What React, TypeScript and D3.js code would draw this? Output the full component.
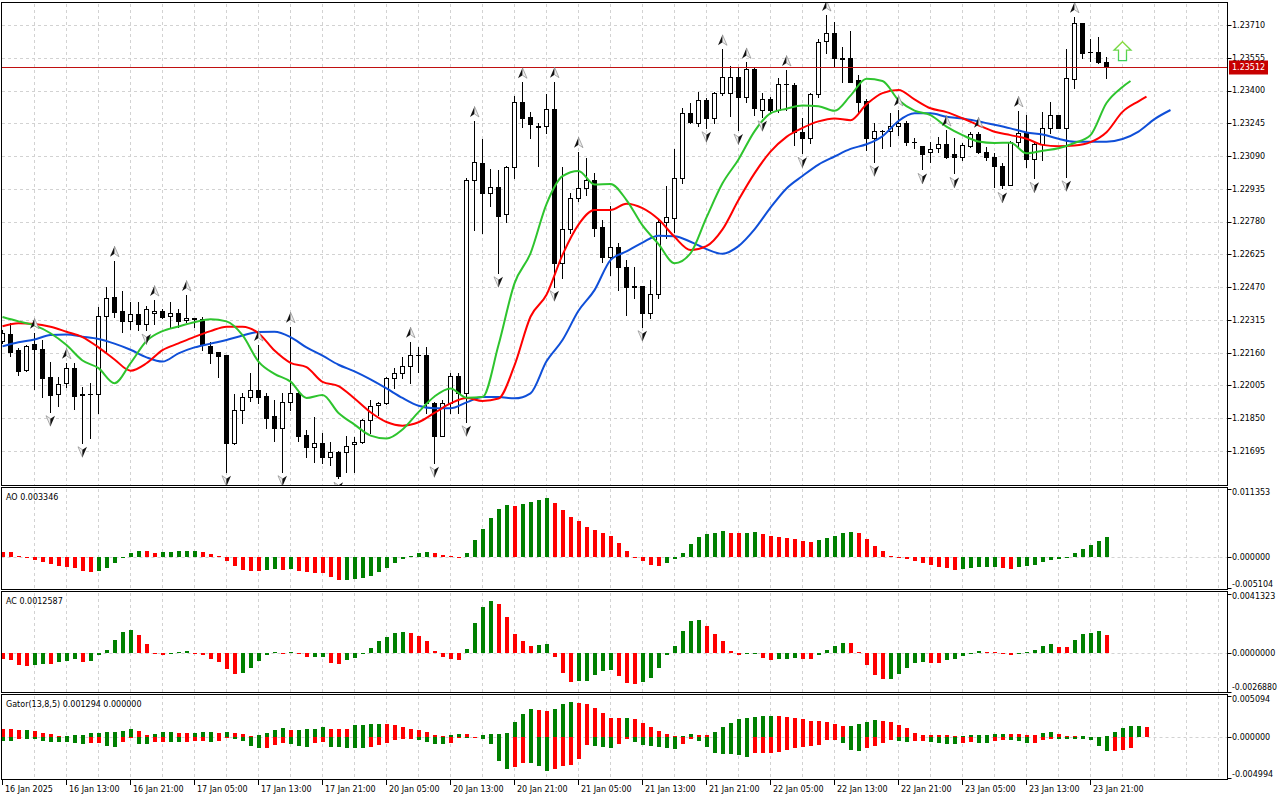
import * as d3 from 'd3';

// ---------- candles (H1) ----------
const opens = [
  1.22217, 1.22248, 1.22173, 1.22078, 1.22201, 1.22177, 1.22046, 1.21964, 1.22015, 1.22089,
  1.21962, 1.21963, 1.21963, 1.22333, 1.22425, 1.22357, 1.22311, 1.22343, 1.22294, 1.22348,
  1.22358, 1.22333, 1.22348, 1.22314, 1.22322, 1.22318, 1.22191, 1.22162, 1.22149, 1.21731,
  1.21887, 1.21949, 1.21982, 1.21956, 1.21860, 1.21805, 1.21925, 1.21971, 1.21770, 1.21715,
  1.21731, 1.21668, 1.21692, 1.21689, 1.21728, 1.21739, 1.21841, 1.21912, 1.21920, 1.22039,
  1.22062, 1.22097, 1.22149, 1.22150, 1.21923, 1.21767, 1.21920, 1.22050, 1.21971, 1.22977,
  1.23056, 1.22914, 1.22942, 1.22814, 1.23040, 1.23347, 1.23273, 1.23230, 1.23232, 1.23311,
  1.22583, 1.22743, 1.22890, 1.22940, 1.22977, 1.22753, 1.22614, 1.22661, 1.22563, 1.22475,
  1.22475, 1.22346, 1.22436, 1.22779, 1.22795, 1.22985, 1.23292, 1.23248, 1.23355, 1.23268,
  1.23387, 1.23387, 1.23462, 1.23371, 1.23500, 1.23308, 1.23358, 1.23308, 1.23430, 1.23426,
  1.23205, 1.23177, 1.23382, 1.23636, 1.23671, 1.23552, 1.23552, 1.23450, 1.23352, 1.23177,
  1.23210, 1.23208, 1.23232, 1.23248, 1.23158, 1.23137, 1.23108, 1.23127, 1.23146, 1.23098,
  1.23087, 1.23139, 1.23193, 1.23108, 1.23084, 1.23043, 1.22953, 1.23158, 1.23198, 1.23075,
  1.23146, 1.23221, 1.23284, 1.23224, 1.23453, 1.23718, 1.23583, 1.23583, 1.23536,
];
const highs = [
  1.22267, 1.22300, 1.22182, 1.22196, 1.22254, 1.22220, 1.22117, 1.22046, 1.22112, 1.22111,
  1.21998, 1.22016, 1.22377, 1.22472, 1.22595, 1.22452, 1.22401, 1.22401, 1.22381, 1.22409,
  1.22366, 1.22401, 1.22365, 1.22433, 1.22325, 1.22330, 1.22212, 1.22165, 1.22151, 1.21963,
  1.21968, 1.22062, 1.22196, 1.21968, 1.21936, 1.21968, 1.22283, 1.21973, 1.21794, 1.21857,
  1.21779, 1.21739, 1.21694, 1.21766, 1.21762, 1.21845, 1.21936, 1.21928, 1.22046, 1.22086,
  1.22141, 1.22212, 1.22188, 1.22188, 1.21925, 1.21936, 1.22062, 1.22062, 1.22985, 1.23256,
  1.23169, 1.23027, 1.23024, 1.23043, 1.23375, 1.23439, 1.23297, 1.23245, 1.23383, 1.23442,
  1.23040, 1.22917, 1.23111, 1.23079, 1.23008, 1.22787, 1.22855, 1.22680, 1.22598, 1.22567,
  1.22477, 1.22504, 1.22787, 1.22948, 1.23122, 1.23316, 1.23342, 1.23394, 1.23363, 1.23394,
  1.23595, 1.23516, 1.23513, 1.23533, 1.23505, 1.23387, 1.23371, 1.23458, 1.23497, 1.23434,
  1.23268, 1.23387, 1.23642, 1.23757, 1.23723, 1.23604, 1.23681, 1.23473, 1.23360, 1.23248,
  1.23213, 1.23292, 1.23308, 1.23256, 1.23177, 1.23138, 1.23158, 1.23181, 1.23213, 1.23174,
  1.23150, 1.23205, 1.23205, 1.23134, 1.23103, 1.23056, 1.23163, 1.23304, 1.23284, 1.23158,
  1.23300, 1.23347, 1.23286, 1.23595, 1.23749, 1.23720, 1.23642, 1.23652, 1.23557,
];
const lows = [
  1.22206, 1.22144, 1.22054, 1.22072, 1.21988, 1.21950, 1.21881, 1.21909, 1.21999, 1.21893,
  1.21734, 1.21756, 1.21876, 1.22157, 1.22330, 1.22259, 1.22270, 1.22267, 1.22267, 1.22294,
  1.22322, 1.22283, 1.22283, 1.22306, 1.22283, 1.22173, 1.22112, 1.22046, 1.21597, 1.21729,
  1.21826, 1.21933, 1.21920, 1.21802, 1.21744, 1.21597, 1.21889, 1.21744, 1.21668, 1.21644,
  1.21637, 1.21629, 1.21566, 1.21594, 1.21594, 1.21734, 1.21779, 1.21865, 1.21918, 1.21991,
  1.22039, 1.22018, 1.22067, 1.21876, 1.21639, 1.21765, 1.21873, 1.21873, 1.21833, 1.22740,
  1.22727, 1.22855, 1.22538, 1.22777, 1.22988, 1.23229, 1.23177, 1.23043, 1.23198, 1.22472,
  1.22512, 1.22725, 1.22877, 1.22906, 1.22713, 1.22590, 1.22527, 1.22456, 1.22336, 1.22417,
  1.22283, 1.22322, 1.22417, 1.22701, 1.22732, 1.22961, 1.23248, 1.23232, 1.23224, 1.23245,
  1.23379, 1.23281, 1.23213, 1.23347, 1.23284, 1.23276, 1.23292, 1.23300, 1.23308, 1.23142,
  1.23103, 1.23150, 1.23371, 1.23576, 1.23513, 1.23442, 1.23440, 1.23292, 1.23119, 1.23063,
  1.23127, 1.23139, 1.23189, 1.23142, 1.23127, 1.23027, 1.23063, 1.23110, 1.23079, 1.23008,
  1.23071, 1.23134, 1.23103, 1.23071, 1.22945, 1.22937, 1.22951, 1.23134, 1.23040, 1.22985,
  1.23071, 1.23198, 1.23222, 1.22992, 1.23413, 1.23552, 1.23540, 1.23529, 1.23461,
];
const closes = [
  1.22252, 1.22165, 1.22075, 1.22191, 1.22177, 1.22042, 1.21961, 1.22012, 1.22089, 1.21956,
  1.21963, 1.21965, 1.22333, 1.22417, 1.22354, 1.22311, 1.22341, 1.22294, 1.22365, 1.22357,
  1.22330, 1.22346, 1.22311, 1.22322, 1.22320, 1.22196, 1.22160, 1.22146, 1.21731, 1.21887,
  1.21949, 1.21982, 1.21952, 1.21852, 1.21805, 1.21928, 1.21968, 1.21767, 1.21715, 1.21731,
  1.21668, 1.21692, 1.21577, 1.21720, 1.21739, 1.21841, 1.21909, 1.21920, 1.22039, 1.22062,
  1.22097, 1.22149, 1.22150, 1.21923, 1.21767, 1.21920, 1.22050, 1.21971, 1.22977, 1.23060,
  1.22914, 1.22942, 1.22808, 1.23040, 1.23347, 1.23271, 1.23240, 1.23229, 1.23311, 1.22583,
  1.22743, 1.22890, 1.22937, 1.22977, 1.22751, 1.22614, 1.22661, 1.22564, 1.22472, 1.22473,
  1.22346, 1.22436, 1.22779, 1.22800, 1.22985, 1.23292, 1.23252, 1.23355, 1.23268, 1.23387,
  1.23462, 1.23462, 1.23371, 1.23500, 1.23316, 1.23358, 1.23308, 1.23429, 1.23431, 1.23205,
  1.23177, 1.23382, 1.23631, 1.23671, 1.23552, 1.23551, 1.23442, 1.23347, 1.23177, 1.23210,
  1.23209, 1.23233, 1.23248, 1.23158, 1.23157, 1.23100, 1.23123, 1.23146, 1.23087, 1.23087,
  1.23142, 1.23193, 1.23108, 1.23087, 1.23043, 1.22953, 1.23158, 1.23198, 1.23075, 1.23146,
  1.23221, 1.23284, 1.23224, 1.23458, 1.23718, 1.23579, 1.23582, 1.23533, 1.23512,
];
const lastPrice = 1.23512;

// Fractal bars
const upFractals = [4, 8, 14, 19, 23, 32, 36, 51, 59, 65, 69, 72, 90, 93, 98, 103, 112, 118, 122, 127, 134];
const downFractals = [6, 10, 18, 28, 35, 42, 54, 58, 62, 69, 80, 88, 92, 95, 100, 109, 115, 119, 125, 129, 133];
const buySignal = { bar: 140, price: 1.23586 };

// ---------- Alligator (sampled every 2 bars, lines run ahead of the last candle) ----------
const LINE_STEP = 2;
const jaw = [
  1.22190, 1.22209, 1.22222, 1.22244, 1.22246, 1.22236, 1.22225, 1.22203, 1.22174, 1.22138,
  1.22118, 1.22157, 1.22185, 1.22203, 1.22220, 1.22241, 1.22258, 1.22259, 1.22234, 1.22185,
  1.22146, 1.22103, 1.22072, 1.22034, 1.21991, 1.21946, 1.21909, 1.21897, 1.21897, 1.21925,
  1.21950, 1.21950, 1.21944, 1.21968, 1.22119, 1.22220, 1.22358, 1.22456, 1.22598, 1.22639,
  1.22681, 1.22713, 1.22711, 1.22685, 1.22650, 1.22628, 1.22664, 1.22743, 1.22846, 1.22937,
  1.22996, 1.23050, 1.23088, 1.23124, 1.23146, 1.23184, 1.23256, 1.23292, 1.23292, 1.23276,
  1.23268, 1.23254, 1.23238, 1.23221, 1.23202, 1.23192, 1.23172, 1.23158, 1.23158, 1.23158,
  1.23171, 1.23206, 1.23265, 1.23308,
];
const teeth = [
  1.22285, 1.22299, 1.22296, 1.22283, 1.22259, 1.22234, 1.22185, 1.22128, 1.22075, 1.22110,
  1.22172, 1.22204, 1.22235, 1.22262, 1.22283, 1.22283, 1.22252, 1.22170, 1.22112, 1.22092,
  1.22022, 1.22002, 1.21943, 1.21878, 1.21832, 1.21815, 1.21831, 1.21875, 1.21920, 1.21946,
  1.21932, 1.21943, 1.22100, 1.22330, 1.22434, 1.22623, 1.22766, 1.22835, 1.22835, 1.22865,
  1.22844, 1.22791, 1.22708, 1.22646, 1.22664, 1.22743, 1.22882, 1.23008, 1.23111, 1.23181,
  1.23223, 1.23254, 1.23268, 1.23260, 1.23335, 1.23388, 1.23402, 1.23358, 1.23316, 1.23298,
  1.23269, 1.23236, 1.23205, 1.23189, 1.23172, 1.23143, 1.23137, 1.23140, 1.23156, 1.23203,
  1.23299, 1.23349,
];
const teethTip: [number, number] = [143, 1.23371];
const lips = [
  1.22329, 1.22308, 1.22289, 1.22252, 1.22196, 1.22123, 1.22087, 1.22016, 1.22110, 1.22215,
  1.22262, 1.22284, 1.22304, 1.22318, 1.22308, 1.22243, 1.22118, 1.22060, 1.22023, 1.21946,
  1.21960, 1.21875, 1.21820, 1.21768, 1.21754, 1.21797, 1.21879, 1.21953, 1.21991, 1.21947,
  1.21950, 1.22196, 1.22488, 1.22630, 1.22863, 1.22995, 1.23020, 1.22956, 1.22958, 1.22882,
  1.22762, 1.22674, 1.22583, 1.22630, 1.22800, 1.22961, 1.23074, 1.23207, 1.23292, 1.23314,
  1.23329, 1.23326, 1.23304, 1.23376, 1.23456, 1.23445, 1.23355, 1.23305, 1.23284, 1.23229,
  1.23189, 1.23159, 1.23152, 1.23153, 1.23103, 1.23115, 1.23127, 1.23152, 1.23189, 1.23341,
  1.23417,
];
const lipsTip: [number, number] = [141, 1.23445];

// ---------- oscillators ----------
const ao = [
  0.000963, 0.000910, 0.000268, -0.000054, -0.000428, -0.000803, -0.001124, -0.001445, -0.001605, -0.001766,
  -0.002247, -0.002408, -0.002247, -0.001712, -0.000963, -0.000107, 0.000749, 0.001070, 0.001043, 0.000749,
  0.000803, 0.000910, 0.001070, 0.001097, 0.001124, 0.000910, 0.000589, 0.000161, -0.000589, -0.001445,
  -0.002140, -0.002247, -0.002301, -0.002033, -0.001980, -0.002033, -0.001926, -0.002247, -0.002408, -0.002568,
  -0.002622, -0.003317, -0.003745, -0.003692, -0.003585, -0.003478, -0.003050, -0.002408, -0.001766, -0.000963,
  -0.000321, 0.000268, 0.000749, 0.000910, 0.000642, 0.000321, 0.000161, -0.000107, 0.000749, 0.002836,
  0.004762, 0.006527, 0.007972, 0.008614, 0.008560, 0.008935, 0.009256, 0.009577, 0.009898, 0.009095,
  0.007811, 0.006688, 0.006046, 0.005083, 0.004601, 0.004120, 0.003478, 0.002354, 0.001070, 0.000107,
  -0.000642, -0.001284, -0.001445, -0.000963, -0.000268, 0.000749, 0.002194, 0.003317, 0.003799, 0.004120,
  0.004441, 0.004120, 0.003959, 0.004120, 0.004280, 0.003799, 0.003478, 0.003317, 0.003157, 0.002996,
  0.002675, 0.002515, 0.002836, 0.003157, 0.003478, 0.003959, 0.004280, 0.003959, 0.002996, 0.001873,
  0.001070, 0.000268, -0.000107, -0.000268, -0.000589, -0.000963, -0.001284, -0.001605, -0.001712, -0.002087,
  -0.001926, -0.001712, -0.001659, -0.001632, -0.001605, -0.001712, -0.001926, -0.001605, -0.001445, -0.001284,
  -0.000803, -0.000482, -0.000321, -0.000161, 0.000642, 0.001445, 0.002087, 0.002729, 0.003346,
];
const ac = [
  -0.000416, -0.000462, -0.000809, -0.000878, -0.000809, -0.000739, -0.000762, -0.000578, -0.000508, -0.000416,
  -0.000578, -0.000531, -0.000116, 0.000231, 0.000878, 0.001432, 0.001617, 0.001271, 0.000647, 0.000023,
  -0.000116, -0.000069, 0.000116, 0.000162, 0.000046, -0.000116, -0.000416, -0.000624, -0.001109, -0.001432,
  -0.001386, -0.001040, -0.000508, -0.000116, 0.000069, 0.000046, 0.000116, -0.000046, -0.000277, -0.000254,
  -0.000231, -0.000693, -0.000739, -0.000462, -0.000323, 0.000046, 0.000393, 0.000809, 0.001086, 0.001363,
  0.001432, 0.001363, 0.001224, 0.000809, 0.000185, -0.000277, -0.000416, -0.000462, 0.000323, 0.002056,
  0.003165, 0.003581, 0.003373, 0.002472, 0.001294, 0.000809, 0.000531, 0.000543, 0.000601, -0.000277,
  -0.001386, -0.002010, -0.001940, -0.001917, -0.001525, -0.001247, -0.001155, -0.001594, -0.002079, -0.002148,
  -0.002010, -0.001733, -0.001040, -0.000116, 0.000531, 0.001525, 0.002218, 0.002287, 0.001848, 0.001294,
  0.000809, 0.000185, -0.000116, -0.000046, 0.000023, -0.000323, -0.000462, -0.000393, -0.000381, -0.000323,
  -0.000393, -0.000416, -0.000116, 0.000254, 0.000531, 0.000739, 0.000716, 0.000116, -0.000809, -0.001502,
  -0.001779, -0.001756, -0.001432, -0.001016, -0.000670, -0.000624, -0.000647, -0.000670, -0.000462, -0.000416,
  -0.000185, 0.000046, 0.000139, 0.000116, 0.000104, -0.000046, -0.000116, 0.000046, 0.000116, 0.000254,
  0.000531, 0.000670, 0.000462, 0.000439, 0.000947, 0.001294, 0.001363, 0.001502, 0.0012587,
];
const gatorUp = [
  0.001028, 0.000986, 0.000904, 0.000945, 0.000822, 0.000534, 0.000411, 0.000164, 0.000206, 0.000226,
  0.000247, 0.000493, 0.000575, 0.000596, 0.000699, 0.000822, 0.001028, 0.000822, 0.000329, 0.000452,
  0.000658, 0.000678, 0.000575, 0.000555, 0.000575, 0.000596, 0.000699, 0.000575, 0.000699, 0.000575,
  0.000452, 0.000206, 0.000247, 0.000575, 0.000945, 0.001151, 0.000904, 0.000945, 0.000966, 0.001069,
  0.001315, 0.001069, 0.001048, 0.001028, 0.001480, 0.001562, 0.001644, 0.001685, 0.001603, 0.001562,
  0.001315, 0.001069, 0.000863, 0.000617, 0.000329, 0.000164, 0.000329, 0.000411, 0.000370, 0.000082,
  0.000329, 0.000349, 0.000452, 0.000575, 0.001932, 0.002918, 0.003535, 0.003329, 0.003288, 0.003494,
  0.004110, 0.004357, 0.004192, 0.004110, 0.003658, 0.003000, 0.002404, 0.002384, 0.002396, 0.002219,
  0.001726, 0.001274, 0.000781, 0.000411, 0.000123, 0.000164, 0.000411, 0.000308, 0.000288, 0.000658,
  0.001274, 0.001767, 0.002261, 0.002384, 0.002548, 0.002630, 0.002651, 0.002630, 0.002548, 0.002425,
  0.002261, 0.002014, 0.001993, 0.001891, 0.001685, 0.001397, 0.001439, 0.001603, 0.001891, 0.002137,
  0.002055, 0.001891, 0.001521, 0.001192, 0.000534, 0.000288, 0.000267, 0.000247, 0.000226, 0.000123,
  0.000164, 0.000288, 0.000308, 0.000329, 0.000411, 0.000432, 0.000411, 0.000390, 0.000288, 0.000267,
  0.000534, 0.000658, 0.000411, 0.000164, 0.000144, 0.000164, 0.000041, 0.000082, 0.000164, 0.000658,
  0.001151, 0.001397, 0.001418, 0.001294,
];
const gatorDown = [
  -0.000411, -0.000432, -0.000164, -0.000206, -0.000226, -0.000411, -0.000534, -0.000555, -0.000617, -0.000740,
  -0.000822, -0.000740, -0.000719, -0.001028, -0.001233, -0.000617, -0.000123, -0.000822, -0.000843, -0.000617,
  -0.000596, -0.000617, -0.000637, -0.000617, -0.000493, -0.000411, -0.000534, -0.000411, -0.000123, -0.000164,
  -0.000411, -0.001028, -0.001356, -0.001336, -0.000945, -0.000740, -0.000822, -0.001028, -0.001233, -0.000740,
  -0.000617, -0.001233, -0.001245, -0.001258, -0.001274, -0.001356, -0.001233, -0.000945, -0.000740, -0.000329,
  -0.000206, -0.000185, -0.000329, -0.000617, -0.000822, -0.000843, -0.000740, -0.000123, -0.000144, -0.000021,
  -0.000206, -0.000822, -0.002959, -0.003863, -0.003699, -0.003165, -0.003185, -0.003576, -0.004192, -0.003946,
  -0.003494, -0.003370, -0.002630, -0.000986, -0.001069, -0.001233, -0.001315, -0.000863, -0.000164, -0.000534,
  -0.000986, -0.001110, -0.001192, -0.001315, -0.001439, -0.000863, -0.000247, -0.000411, -0.001233, -0.001891,
  -0.002055, -0.002096, -0.002219, -0.002425, -0.001973, -0.001965, -0.001956, -0.001808, -0.001562, -0.001315,
  -0.001192, -0.001069, -0.000904, -0.000329, -0.000321, -0.000740, -0.001562, -0.001685, -0.001315, -0.001069,
  -0.000658, -0.000329, -0.000452, -0.000534, -0.000411, -0.000403, -0.000534, -0.000658, -0.000781, -0.000793,
  -0.000658, -0.000534, -0.000658, -0.000670, -0.000411, -0.000329, -0.000341, -0.000411, -0.000740, -0.000658,
  -0.000329, -0.000164, -0.000173, -0.000181, -0.000189, -0.000247, -0.000329, -0.001069, -0.001685, -0.001644,
  -0.001562, -0.001315,
];

// ---------- axes ----------
const priceTicks = [
  1.2371, 1.23555, 1.234, 1.23245, 1.2309, 1.22935, 1.2278, 1.22625, 1.2247, 1.22315,
  1.2216, 1.22005, 1.2185, 1.21695,
];
const timeTicks = [0, 8, 16, 24, 32, 40, 48, 56, 64, 72, 80, 88, 96, 104, 112, 120, 128, 136];
const timeLabels = [
  '16 Jan 2025', '16 Jan 13:00', '16 Jan 21:00', '17 Jan 05:00', '17 Jan 13:00', '17 Jan 21:00',
  '20 Jan 05:00', '20 Jan 13:00', '20 Jan 21:00', '21 Jan 05:00', '21 Jan 13:00', '21 Jan 21:00',
  '22 Jan 05:00', '22 Jan 13:00', '22 Jan 21:00', '23 Jan 05:00', '23 Jan 13:00', '23 Jan 21:00',
];
const aoRange = [-0.005104, 0.011353];
const acRange = [-0.002688, 0.0041323];
const gatorRange = [-0.004994, 0.005094];

// ---------- layout ----------
const W = 1280;
const H = 800;
const LEFT = 1.5;
const RIGHT = 1227.5;
const FONT = "'DejaVu Sans', Verdana, sans-serif";
const FS = 8;
const GREEN = '#008000';
const RED = '#ff0000';
const GRID = '#d2d2d2';

const panels = {
  main: { top: 2.5, bottom: 485.5 },
  ao: { top: 487.5, bottom: 589.5 },
  ac: { top: 591.5, bottom: 692.5 },
  gator: { top: 694.5, bottom: 779.5 },
};

const x = d3.scaleLinear().domain([0, 1]).range([2, 10]);
const yMain = d3.scaleLinear().domain([1.21695, 1.2371]).range([451, 25]);
const yAO = d3.scaleLinear().domain(aoRange).range([588, 489]);
const yAC = d3.scaleLinear().domain(acRange).range([692, 593.5]);
const yGator = d3.scaleLinear().domain(gatorRange).range([777.8, 696]);

const gridBars = d3.range(4, 160, 4).filter((i) => x(i) < RIGHT - 2);

const linePath = d3
  .line<[number, number]>()
  .x((d) => x(d[0]) + 0.5)
  .y((d) => yMain(d[1]))
  .curve(d3.curveMonotoneX);

const toPoints = (vals: number[], tip?: [number, number]): [number, number][] => {
  const pts: [number, number][] = vals.map((v, k) => [k * LINE_STEP, v]);
  if (tip) pts.push(tip);
  return pts;
};

const fmt = (v: number, d: number) => v.toFixed(d);

function VGrid({ top, bottom }: { top: number; bottom: number }) {
  return (
    <g stroke={GRID} strokeDasharray="3,3" shapeRendering="crispEdges">
      {gridBars.map((i) => (
        <line key={i} x1={x(i) + 0.5} x2={x(i) + 0.5} y1={top + 1} y2={bottom} />
      ))}
    </g>
  );
}

function AxisLabels({
  ticks,
  scale,
  top,
  bottom,
  digits,
}: {
  ticks: number[];
  scale: d3.ScaleLinear<number, number>;
  top: number;
  bottom: number;
  digits: number;
}) {
  return (
    <g>
      {ticks.map((v) => {
        const yy = scale(v);
        const ly = Math.min(Math.max(yy, top + 5), bottom - 5);
        const label = fmt(v, digits);
        return (
          <g key={v}>
            <line x1={RIGHT} x2={RIGHT + 4} y1={Math.round(yy) + 0.5} y2={Math.round(yy) + 0.5} stroke="#000" />
            <text
              x={1232}
              y={ly}
              dy="0.36em"
              fontSize={FS}
              fontFamily={FONT}
              fill="#000"
              textLength={label.length >= 10 ? 45 : undefined}
              lengthAdjust="spacingAndGlyphs"
            >
              {label}
            </text>
          </g>
        );
      })}
    </g>
  );
}

function Histogram({
  values,
  scale,
  colorOf,
}: {
  values: number[];
  scale: d3.ScaleLinear<number, number>;
  colorOf: (i: number) => string;
}) {
  const zero = scale(0);
  return (
    <g shapeRendering="crispEdges">
      {values.map((v, i) => {
        const yv = scale(v);
        const y0 = Math.min(yv, zero);
        const h = Math.max(Math.abs(yv - zero), 1);
        return <rect key={i} x={x(i) - 1} y={y0} width={4} height={h} fill={colorOf(i)} />;
      })}
    </g>
  );
}

function FractalUp({ cx, cy }: { cx: number; cy: number }) {
  return (
    <g transform={`translate(${cx},${cy})`}>
      <path d="M0,-5.5L-4.5,5L0,2Z" fill="#111" />
      <path d="M0,-5.5L4.5,5L0,2Z" fill="#eee" stroke="#8a8a8a" strokeWidth={0.7} />
    </g>
  );
}

function FractalDown({ cx, cy }: { cx: number; cy: number }) {
  return (
    <g transform={`translate(${cx},${cy})`}>
      <path d="M0,5.5L-4.5,-5L0,-2Z" fill="#eee" stroke="#8a8a8a" strokeWidth={0.7} />
      <path d="M0,5.5L4.5,-5L0,-2Z" fill="#111" />
    </g>
  );
}

export default function App() {
  const mainTop = panels.main.top;
  const mainBottom = panels.main.bottom;
  const lastY = Math.round(yMain(lastPrice)) + 0.5;

  const aoColor = (i: number) => (i > 0 && ao[i] > ao[i - 1] ? GREEN : RED);
  const acColor = (i: number) => (i > 0 && ac[i] > ac[i - 1] ? GREEN : RED);
  const upColor = (i: number) => (i > 0 && gatorUp[i] > gatorUp[i - 1] ? GREEN : RED);
  const downColor = (i: number) =>
    i === 0 || Math.abs(gatorDown[i]) > Math.abs(gatorDown[i - 1]) ? GREEN : RED;

  const sig = { cx: x(buySignal.bar) + 0.5, cy: yMain(buySignal.price) };

  return (
    <svg
      width={W}
      height={H}
      viewBox={`0 0 ${W} ${H}`}
      style={{ position: 'absolute', left: 0, top: 0, background: '#fff' }}
    >
      <defs>
        <clipPath id="clipMain">
          <rect x={LEFT + 0.5} y={mainTop + 0.5} width={RIGHT - LEFT - 1} height={mainBottom - mainTop - 1} />
        </clipPath>
        <clipPath id="clipSub">
          <rect x={LEFT + 0.5} y={panels.ao.top} width={RIGHT - LEFT - 1} height={panels.gator.bottom - panels.ao.top} />
        </clipPath>
        <linearGradient id="sigStroke" x1="0" y1="0" x2="0" y2="1">
          <stop offset="0" stopColor="#8fdc3c" />
          <stop offset="1" stopColor="#3ccf5a" />
        </linearGradient>
      </defs>
      <rect x={0} y={0} width={W} height={H} fill="#fff" />

      {/* ---------- main panel ---------- */}
      <VGrid top={mainTop} bottom={mainBottom} />
      <g stroke={GRID} strokeDasharray="3,3" shapeRendering="crispEdges">
        {priceTicks.map((p) => (
          <line key={p} x1={LEFT} x2={RIGHT} y1={Math.round(yMain(p)) + 0.5} y2={Math.round(yMain(p)) + 0.5} />
        ))}
      </g>

      <g clipPath="url(#clipMain)">
        {/* candles */}
        <g shapeRendering="crispEdges">
          {opens.map((o, i) => {
            const c = closes[i];
            const cx = x(i);
            const yo = Math.round(yMain(o));
            const yc = Math.round(yMain(c));
            const top = Math.min(yo, yc);
            const bot = Math.max(yo, yc);
            const bull = c >= o;
            return (
              <g key={i}>
                <line
                  x1={cx + 0.5}
                  x2={cx + 0.5}
                  y1={Math.round(yMain(highs[i]))}
                  y2={Math.round(yMain(lows[i])) + 1}
                  stroke="#000"
                />
                {bot - top < 1 ? (
                  <line x1={cx - 2} x2={cx + 3} y1={top + 0.5} y2={top + 0.5} stroke="#000" />
                ) : (
                  <rect
                    x={cx - 1.5}
                    y={top + 0.5}
                    width={4}
                    height={bot - top}
                    fill={bull ? '#fff' : '#000'}
                    stroke="#000"
                  />
                )}
              </g>
            );
          })}
        </g>

        {/* current price line */}
        <line x1={LEFT} x2={RIGHT} y1={lastY} y2={lastY} stroke="#c01010" shapeRendering="crispEdges" />

        {/* alligator */}
        <path d={linePath(toPoints(jaw)) || undefined} fill="none" stroke="#0f4fd8" strokeWidth={2} />
        <path d={linePath(toPoints(teeth, teethTip)) || undefined} fill="none" stroke="#ff0000" strokeWidth={2} />
        <path d={linePath(toPoints(lips, lipsTip)) || undefined} fill="none" stroke="#2ec42e" strokeWidth={2} />

        {/* fractals */}
        {upFractals.map((i) => (
          <FractalUp key={`u${i}`} cx={x(i) + 0.5} cy={yMain(highs[i]) - 9} />
        ))}
        {downFractals.map((i) => (
          <FractalDown key={`d${i}`} cx={x(i) + 0.5} cy={yMain(lows[i]) + 9} />
        ))}

        {/* buy signal arrow */}
        <path
          transform={`translate(${sig.cx},${sig.cy})`}
          d="M0,-9.5L8.5,-1L4,-1L4,9.5L-4,9.5L-4,-1L-8.5,-1Z"
          fill="#fff"
          stroke="url(#sigStroke)"
          strokeWidth={1.3}
        />
      </g>

      {/* price axis */}
      <AxisLabels ticks={priceTicks} scale={yMain} top={mainTop} bottom={mainBottom} digits={5} />
      <rect x={1229} y={lastY - 7} width={39} height={14} fill="#c80000" />
      <text x={1232} y={lastY} dy="0.36em" fontSize={FS} fontFamily={FONT} fill="#fff">
        {fmt(lastPrice, 5)}
      </text>

      {/* ---------- AO ---------- */}
      <VGrid top={panels.ao.top} bottom={panels.ao.bottom} />
      <line x1={LEFT} x2={RIGHT} y1={Math.round(yAO(0)) + 0.5} y2={Math.round(yAO(0)) + 0.5} stroke={GRID} strokeDasharray="3,3" />
      <g clipPath="url(#clipSub)">
        <Histogram values={ao} scale={yAO} colorOf={aoColor} />
      </g>
      <text x={6} y={497} dy="0.36em" fontSize={FS} fontFamily={FONT}>
        AO {fmt(ao[ao.length - 1], 6)}
      </text>
      <AxisLabels ticks={[aoRange[1], 0, aoRange[0]]} scale={yAO} top={panels.ao.top} bottom={panels.ao.bottom} digits={6} />

      {/* ---------- AC ---------- */}
      <VGrid top={panels.ac.top} bottom={panels.ac.bottom} />
      <line x1={LEFT} x2={RIGHT} y1={Math.round(yAC(0)) + 0.5} y2={Math.round(yAC(0)) + 0.5} stroke={GRID} strokeDasharray="3,3" />
      <g clipPath="url(#clipSub)">
        <Histogram values={ac} scale={yAC} colorOf={acColor} />
      </g>
      <text x={6} y={601.5} dy="0.36em" fontSize={FS} fontFamily={FONT}>
        AC {fmt(ac[ac.length - 1], 7)}
      </text>
      <AxisLabels ticks={[acRange[1], 0, acRange[0]]} scale={yAC} top={panels.ac.top} bottom={panels.ac.bottom} digits={7} />

      {/* ---------- Gator ---------- */}
      <VGrid top={panels.gator.top} bottom={panels.gator.bottom} />
      <line x1={LEFT} x2={RIGHT} y1={Math.round(yGator(0)) + 0.5} y2={Math.round(yGator(0)) + 0.5} stroke={GRID} strokeDasharray="3,3" />
      <g clipPath="url(#clipSub)">
        <Histogram values={gatorUp} scale={yGator} colorOf={upColor} />
        <Histogram values={gatorDown} scale={yGator} colorOf={downColor} />
      </g>
      <text x={6} y={704.5} dy="0.36em" fontSize={FS} fontFamily={FONT}>
        {`Gator(13,8,5) ${fmt(gatorUp[gatorUp.length - 1], 6)} ${fmt(0, 6)}`}
      </text>
      <AxisLabels
        ticks={[gatorRange[1], 0, gatorRange[0]]}
        scale={yGator}
        top={panels.gator.top}
        bottom={panels.gator.bottom}
        digits={6}
      />

      {/* ---------- frames ---------- */}
      <g fill="none" stroke="#000" shapeRendering="crispEdges">
        {Object.values(panels).map((p, k) => (
          <rect key={k} x={LEFT} y={p.top} width={RIGHT - LEFT} height={p.bottom - p.top} />
        ))}
      </g>

      {/* ---------- time axis ---------- */}
      <g>
        {timeTicks.map((i, k) => (
          <g key={i}>
            <line
              x1={x(i) + 0.5}
              x2={x(i) + 0.5}
              y1={panels.gator.bottom}
              y2={panels.gator.bottom + 5}
              stroke="#000"
              shapeRendering="crispEdges"
            />
            <text x={x(i) + 3} y={789} dy="0.36em" fontSize={FS} fontFamily={FONT}>
              {timeLabels[k]}
            </text>
          </g>
        ))}
      </g>
    </svg>
  );
}
